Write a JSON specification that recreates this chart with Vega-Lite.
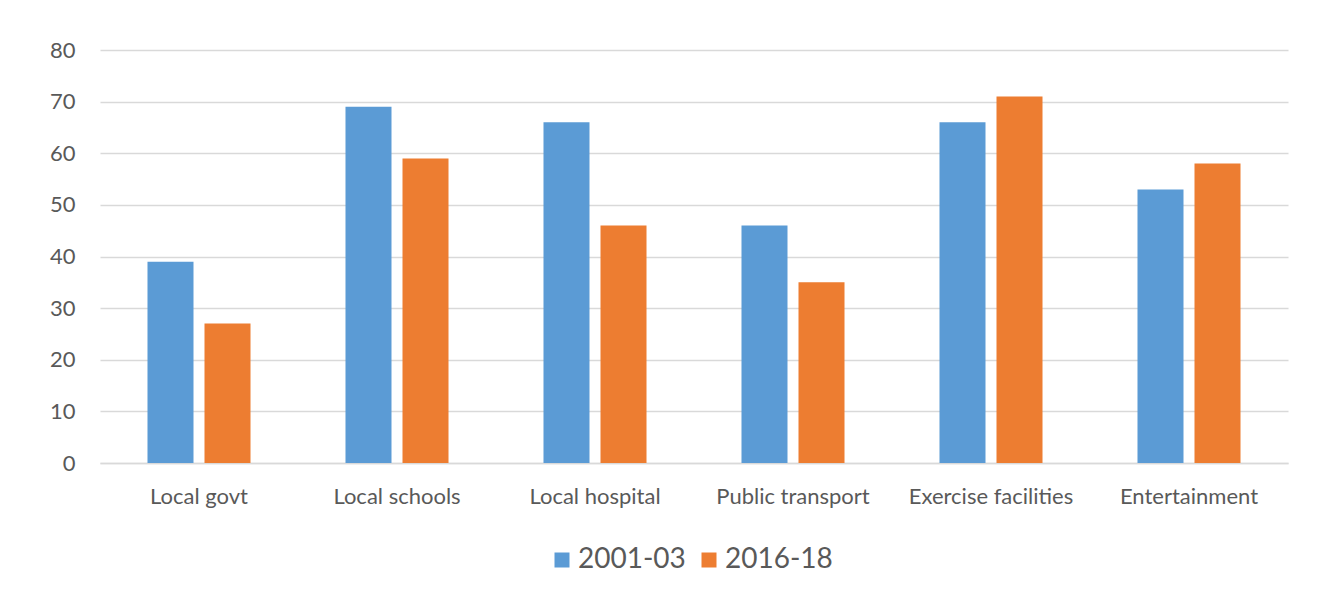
{
  "$schema": "https://vega.github.io/schema/vega-lite/v6.json",
  "autosize": {"type": "none"},
  "width": 1188,
  "height": 413,
  "padding": {"left": 100, "top": 50, "right": 42, "bottom": 129},
  "background": "white",
  "config": {
    "view": {"stroke": null},
    "font": "Lato",
    "axis": {"labelFont": "Lato", "labelColor": "#595959", "labelFontSize": 22, "grid": false, "ticks": false, "title": null}
  },
  "data": {
    "values": [
      {"category": "Local govt", "period": "2001-03", "value": 39},
      {"category": "Local govt", "period": "2016-18", "value": 27},
      {"category": "Local schools", "period": "2001-03", "value": 69},
      {"category": "Local schools", "period": "2016-18", "value": 59},
      {"category": "Local hospital", "period": "2001-03", "value": 66},
      {"category": "Local hospital", "period": "2016-18", "value": 46},
      {"category": "Public transport", "period": "2001-03", "value": 46},
      {"category": "Public transport", "period": "2016-18", "value": 35},
      {"category": "Exercise facilities", "period": "2001-03", "value": 66},
      {"category": "Exercise facilities", "period": "2016-18", "value": 71},
      {"category": "Entertainment", "period": "2001-03", "value": 53},
      {"category": "Entertainment", "period": "2016-18", "value": 58}
    ]
  },
  "mark": {"type": "bar"},
  "encoding": {
    "x": {
      "field": "category", "type": "nominal", "sort": null,
      "scale": {"paddingInner": 0, "paddingOuter": 0},
      "axis": {"labelAngle": 0, "labelPadding": 23, "domain": true, "domainColor": "#d9d9d9", "domainWidth": 1.5}
    },
    "xOffset": {
      "field": "period", "type": "nominal",
      "scale": {"paddingInner": 0.193, "paddingOuter": 0.833}
    },
    "y": {
      "field": "value", "type": "quantitative",
      "scale": {"domain": [0, 80], "nice": false},
      "axis": {"values": [0, 10, 20, 30, 40, 50, 60, 70, 80], "domain": false, "grid": true, "gridColor": "#d9d9d9", "gridWidth": 1.5, "labelPadding": 25}
    },
    "color": {
      "field": "period", "type": "nominal",
      "scale": {"domain": ["2001-03", "2016-18"], "range": ["#5B9BD5", "#ED7D31"]},
      "legend": {
        "title": null, "orient": "none", "direction": "horizontal",
        "legendX": 448, "legendY": 496,
        "symbolType": "square", "symbolSize": 225, "symbolStrokeWidth": 0,
        "labelFont": "Lato", "labelFontSize": 28, "labelColor": "#595959",
        "columnPadding": 9, "labelOffset": 2
      }
    }
  }
}
